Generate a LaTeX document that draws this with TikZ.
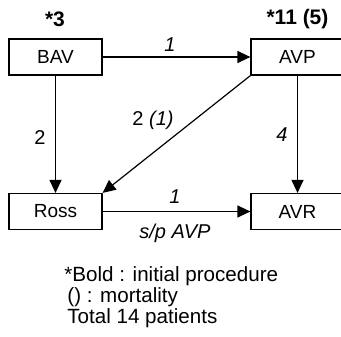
\documentclass[tikz,border=0pt]{standalone}
\usepackage{fontspec}
\setmainfont{Liberation Sans}
\usetikzlibrary{arrows.meta,positioning}
\tikzset{
  box/.style={draw, line width=0.6pt, minimum width=46.5pt, minimum height=18pt, inner sep=0pt, font=\fontsize{9.5}{11}\selectfont},
  flow/.style={line width=0.6pt, -{Triangle[length=6.5pt,width=6pt]}},
  lab/.style={font=\fontsize{10}{12}\selectfont\itshape, inner sep=1pt},
  head/.style={font=\fontsize{10.5}{12}\selectfont\bfseries}
}

\begin{document}
\begin{tikzpicture}[x=0.5pt, y=-0.5pt]
  \useasboundingbox (0,0) rectangle (341,336);

  % procedures
  \node[box] (bav)  at (55.5, 57)    {BAV};
  \node[box] (avp)  at (297.5, 57)   {AVP};
  \node[box] (ross) at (55.5, 211.5) {Ross};
  \node[box] (avr)  at (297.5, 211.5) {AVR};

  \node[head] (nbav) at (55, 19.5)   {*3};
  \node[head] (navp) at (297.5, 19.5) {*11 (5)};

  % transitions
  \draw[flow] (bav) -- (avp);
  \draw[flow] (bav) -- (ross);
  \draw[flow] (avp.south west) -- (ross.north east);
  \draw[flow] (avp) -- (avr);
  \draw[flow] (ross) -- (avr);

  \node[lab] (l1) at (170, 45)  {1};
  \node[lab, font=\fontsize{10}{12}\selectfont] (l2) at (40, 138) {2};
  \node[lab] (l3) at (153, 120) {\upshape 2 \itshape(1)};
  \node[lab] (l4) at (282, 135) {4};
  \node[lab] (l5) at (175, 197) {1};
  \node[lab] (l6) at (175, 233) {s/p AVP};

  % legend
  \node[anchor=north west, align=left, inner sep=0pt, font=\fontsize{10.3}{9}\selectfont] (legend) at (64, 266)
    {*Bold : initial procedure\\ \hspace{1.5pt}() : mortality\\ \hspace{1.5pt}Total 14 patients};
\end{tikzpicture}
\end{document}
